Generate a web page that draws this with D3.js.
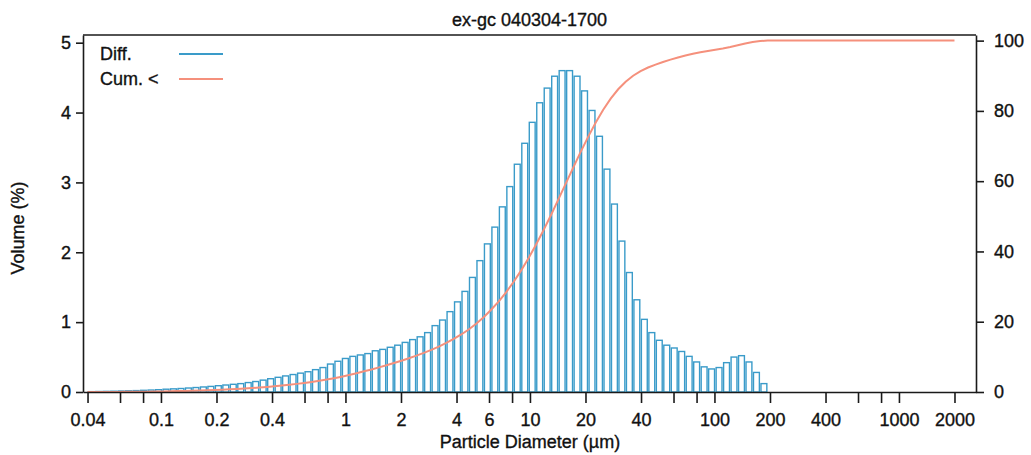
<!DOCTYPE html>
<html>
<head>
<meta charset="utf-8">
<script src="https://cdn.jsdelivr.net/npm/d3@7"></script>
<style>
  html, body { margin: 0; padding: 0; background: #fff; }
  svg { display: block; }
  text { font-family: "Liberation Sans", Arial, sans-serif; fill: #111; stroke: #111; stroke-width: 0.35px; }
</style>
</head>
<body>
<svg id="chart" width="1031" height="455"></svg>
<script>
// ---- data ----
const title = "ex-gc 040304-1700";
const xLabel = "Particle Diameter (\u00b5m)";
const yLabel = "Volume (%)";
const seriesNames = ["Diff.", "Cum. <"];

// 116 size channels, 0.04 .. 2000 um, log-spaced
const channelCount = 116;
const sizeMin = 0.04;
const sizeMax = 2000;

// Differential volume % per channel
const diffVolume = [
  0.005, 0.007, 0.009, 0.011, 0.014, 0.017, 0.020, 0.024, 0.028, 0.033,
  0.040, 0.045, 0.050, 0.057, 0.064, 0.072, 0.080, 0.090, 0.100, 0.110,
  0.120, 0.135, 0.150, 0.170, 0.190, 0.210, 0.230, 0.250, 0.270, 0.290,
  0.320, 0.350, 0.400, 0.440, 0.480, 0.510, 0.530, 0.550, 0.590, 0.610,
  0.640, 0.670, 0.710, 0.750, 0.790, 0.850, 0.950, 1.030, 1.150, 1.290,
  1.440, 1.640, 1.880, 2.120, 2.360, 2.650, 2.940, 3.260, 3.560, 3.860,
  4.140, 4.350, 4.520, 4.600, 4.600, 4.520, 4.310, 4.030, 3.660, 3.190,
  2.690, 2.160, 1.710, 1.320, 1.040, 0.850, 0.740, 0.670, 0.630, 0.580,
  0.510, 0.430, 0.360, 0.330, 0.350, 0.420, 0.500, 0.520, 0.430, 0.280,
  0.120, 0, 0, 0, 0, 0, 0, 0, 0, 0,
  0, 0, 0, 0, 0, 0, 0, 0, 0, 0,
  0, 0, 0, 0, 0, 0
];

// Cumulative volume % (undersize) at the upper edge of each channel
const cumVolume = [
  0.005, 0.012, 0.021, 0.032, 0.046, 0.063, 0.082, 0.106, 0.134, 0.167,
  0.206, 0.251, 0.301, 0.357, 0.421, 0.492, 0.572, 0.661, 0.760, 0.869,
  0.988, 1.122, 1.271, 1.440, 1.628, 1.837, 2.065, 2.313, 2.581, 2.869,
  3.186, 3.534, 3.931, 4.367, 4.84, 5.35, 5.88, 6.42, 7.01, 7.61,
  8.25, 8.91, 9.62, 10.36, 11.14, 11.99, 12.93, 13.95, 15.09, 16.37,
  17.80, 19.43, 21.30, 23.40, 25.74, 28.37, 31.29, 34.53, 38.06, 41.89,
  46.00, 50.31, 54.80, 59.36, 63.93, 68.41, 72.69, 76.69, 80.32, 83.49,
  86.16, 88.30, 90.00, 91.31, 92.34, 93.18, 93.92, 94.58, 95.21, 95.78,
  96.29, 96.71, 97.07, 97.40, 97.75, 98.16, 98.66, 99.18, 99.60, 99.88,
  100, 100, 100, 100, 100, 100, 100, 100, 100, 100,
  100, 100, 100, 100, 100, 100, 100, 100, 100, 100,
  100, 100, 100, 100, 100, 100
];

const xTickValues = [0.04, 0.06, 0.08, 0.1, 0.2, 0.4, 0.6, 0.8, 1, 2, 4, 6, 8, 10, 20, 40, 60, 80, 100, 200, 400, 600, 800, 1000, 2000];
const xTickLabels = ["0.04", "", "", "0.1", "0.2", "0.4", "", "", "1", "2", "4", "6", "", "10", "20", "40", "", "", "100", "200", "400", "", "", "1000", "2000"];
const yLeftTicks = [0, 1, 2, 3, 4, 5];
const yRightTicks = [0, 20, 40, 60, 80, 100];

// ---- layout ----
const plot = { left: 83, right: 976, top: 35, bottom: 392 };
const blue = "#3a9bc9";
const red = "#f5907c";
const axisColor = "#1a1a1a";

const svg = d3.select("#chart");

// channel edges (log-spaced between sizeMin and sizeMax)
const edges = d3.range(channelCount + 1).map(i => sizeMin * Math.pow(sizeMax / sizeMin, i / channelCount));

const x = d3.scaleLog().domain([0.0378, 2616]).range([plot.left, plot.right]);
const yL = d3.scaleLinear().domain([0, 5.11]).range([plot.bottom, plot.top]);
const yR = d3.scaleLinear().domain([0, 101.6]).range([plot.bottom, plot.top]);

// bars
const bars = diffVolume.map((v, i) => ({ v, x0: edges[i], x1: edges[i + 1] })).filter(d => d.v > 0);
svg.append("g")
  .selectAll("rect")
  .data(bars)
  .join("rect")
  .attr("x", d => x(d.x0) + 0.8)
  .attr("width", d => x(d.x1) - x(d.x0) - 1.6)
  .attr("y", d => yL(d.v))
  .attr("height", d => yL(0) - yL(d.v))
  .attr("fill", "none")
  .attr("stroke", blue)
  .attr("stroke-width", 1.4);

// cumulative line
const cumPts = [[edges[0], 0]].concat(cumVolume.map((c, i) => [edges[i + 1], c]));
svg.append("path")
  .datum(cumPts)
  .attr("fill", "none")
  .attr("stroke", red)
  .attr("stroke-width", 2)
  .attr("d", d3.line().x(d => x(d[0])).y(d => yR(d[1])));

// frame top
svg.append("line")
  .attr("x1", plot.left).attr("x2", plot.right)
  .attr("y1", plot.top).attr("y2", plot.top)
  .attr("stroke", axisColor).attr("stroke-width", 1.5);

// axes
const fontSize = 18;
const xAxis = d3.axisBottom(x)
  .tickValues(xTickValues)
  .tickFormat((d, i) => xTickLabels[i])
  .tickSizeInner(11).tickSizeOuter(0).tickPadding(10);
const gx = svg.append("g").attr("transform", `translate(0,${plot.bottom})`).call(xAxis);

const yAxisL = d3.axisLeft(yL).tickValues(yLeftTicks).tickFormat(d3.format("d"))
  .tickSizeInner(7).tickSizeOuter(0).tickPadding(5);
const gyl = svg.append("g").attr("transform", `translate(${plot.left},0)`).call(yAxisL);

const yAxisR = d3.axisRight(yR).tickValues(yRightTicks).tickFormat(d3.format("d"))
  .tickSizeInner(8).tickSizeOuter(0).tickPadding(10);
const gyr = svg.append("g").attr("transform", `translate(${plot.right},0)`).call(yAxisR);

[gx, gyl, gyr].forEach(g => {
  g.selectAll("path.domain").attr("stroke", axisColor).attr("stroke-width", 1.6);
  g.selectAll(".tick line").attr("stroke", axisColor).attr("stroke-width", 1.6);
  g.selectAll(".tick text")
    .style("font-family", '"Liberation Sans", Arial, sans-serif')
    .style("font-size", fontSize + "px")
    .attr("fill", "#111")
    .attr("stroke", "#111")
    .attr("stroke-width", 0.35);
});

// title & axis labels
svg.append("text")
  .attr("x", (plot.left + plot.right) / 2).attr("y", 26)
  .attr("text-anchor", "middle").style("font-size", fontSize + "px")
  .text(title);

svg.append("text")
  .attr("x", 530).attr("y", 448)
  .attr("text-anchor", "middle").style("font-size", fontSize + "px")
  .text(xLabel);

svg.append("text")
  .attr("transform", "translate(24,228) rotate(-90)")
  .attr("text-anchor", "middle").style("font-size", fontSize + "px")
  .text(yLabel);

// legend
const legend = svg.append("g");
const legendColors = [blue, red];
seriesNames.forEach((name, i) => {
  const yy = 54 + i * 25;
  legend.append("text")
    .attr("x", 100).attr("y", yy + 6)
    .style("font-size", fontSize + "px")
    .text(name);
  legend.append("line")
    .attr("x1", 179).attr("x2", 223)
    .attr("y1", yy).attr("y2", yy)
    .attr("stroke", legendColors[i]).attr("stroke-width", 2);
});
</script>
</body>
</html>
